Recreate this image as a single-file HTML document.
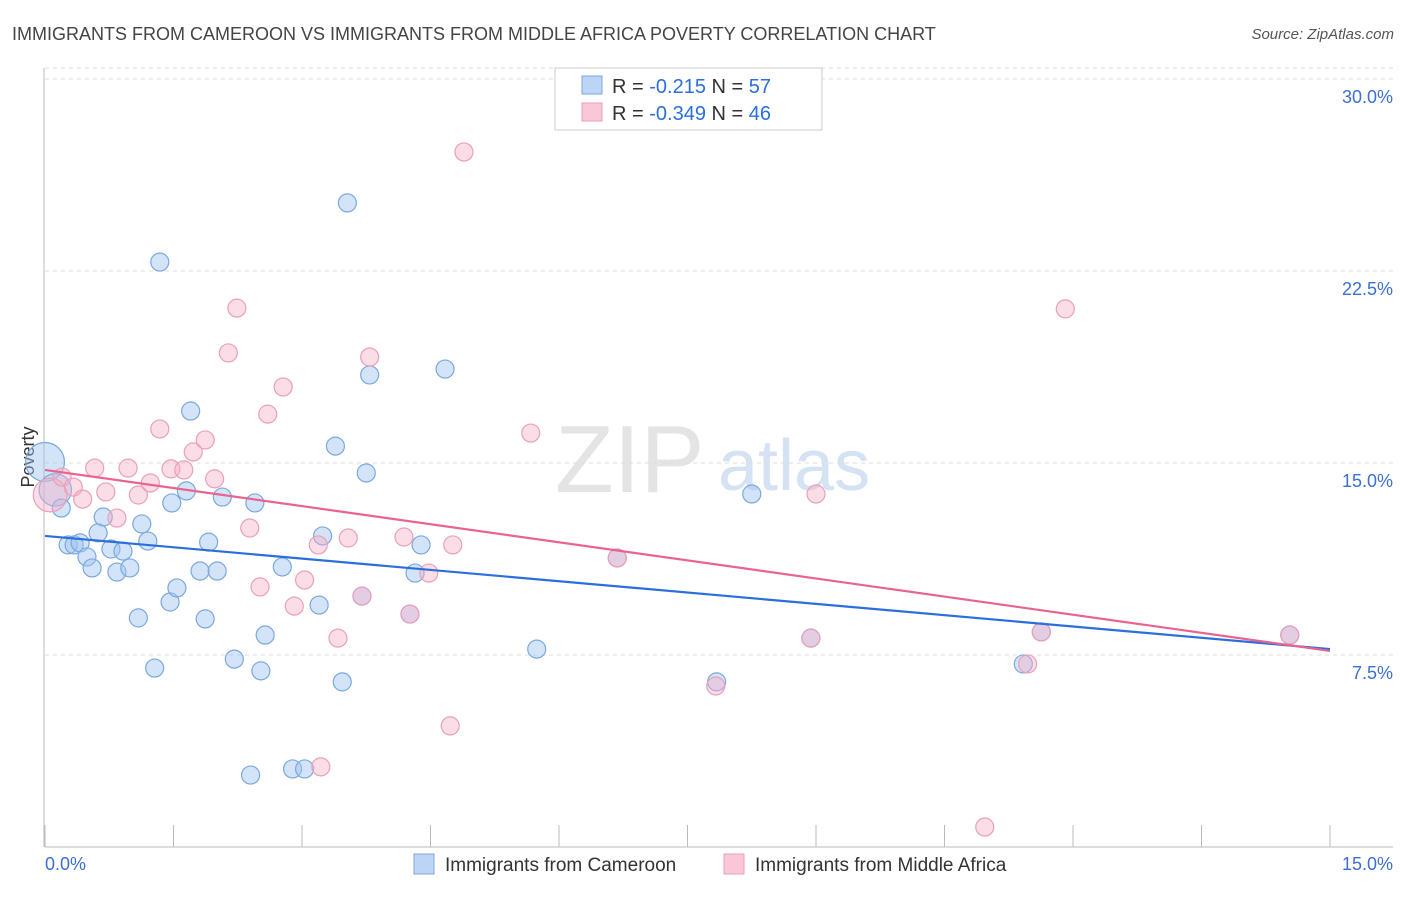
<!DOCTYPE html>
<html><head><meta charset="utf-8"><style>
body{margin:0;background:#fff;font-family:"Liberation Sans",sans-serif}
svg text{font-family:"Liberation Sans",sans-serif}
</style></head><body>
<svg id="c" width="1406" height="892">
<text x="12" y="40" font-size="18" fill="#444">IMMIGRANTS FROM CAMEROON VS IMMIGRANTS FROM MIDDLE AFRICA POVERTY CORRELATION CHART</text>
<text x="1394" y="39" font-size="15" fill="#555" font-style="italic" text-anchor="end">Source: ZipAtlas.com</text>
<text x="555" y="492" font-size="96" fill="#e4e4e4" font-family="Liberation Serif">ZIP</text>
<text x="718" y="490" font-size="72" fill="#d4e2f4">atlas</text>
<text transform="translate(34,457) rotate(-90)" font-size="18" fill="#333" text-anchor="middle">Poverty</text>
<g id="grid"></g><g id="ticks"></g><g id="pts"></g><g id="trend"></g>
<g>
<rect x="555" y="68" width="267" height="62" fill="#fff" stroke="#ccc"/>
<rect x="582" y="76" width="20" height="18" fill="#bcd4f5" stroke="#7aa8e0"/>
<rect x="582" y="103" width="20" height="18" fill="#f9c7d6" stroke="#eaa0b8"/>
<text x="612" y="93" font-size="20" fill="#333">R = <tspan fill="#2a6fdb">-0.215</tspan>   N = <tspan fill="#2a6fdb">57</tspan></text>
<text x="612" y="120" font-size="20" fill="#333">R = <tspan fill="#2a6fdb">-0.349</tspan>   N = <tspan fill="#2a6fdb">46</tspan></text>
</g>
<g>
<rect x="414" y="854" width="20" height="20" fill="#bcd4f5" stroke="#7aa8e0"/>
<text x="445" y="871" font-size="19" fill="#333">Immigrants from Cameroon</text>
<rect x="724" y="854" width="20" height="20" fill="#f9c7d6" stroke="#eaa0b8"/>
<text x="755" y="871" font-size="19" fill="#333">Immigrants from Middle Africa</text>
</g>
</svg>
<script>
const yTicks=[7.5,15,22.5,30];
const yTickLabels=["7.5%","15.0%","22.5%","30.0%"];
const xTicks=[0,1.5,3,4.5,6,7.5,9,10.5,12,13.5,15];
const xLabels=["0.0%","15.0%"];
const blueX=[0.00,0.12,0.19,0.27,0.34,0.41,0.49,0.55,0.62,0.68,0.77,0.84,0.91,0.99,1.09,1.13,1.20,1.28,1.34,1.46,1.48,1.54,1.65,1.70,1.81,1.87,1.91,2.01,2.07,2.21,2.40,2.45,2.52,2.57,2.77,2.89,3.03,3.20,3.24,3.39,3.47,3.53,3.70,3.75,3.79,4.26,4.32,4.39,4.67,5.74,6.68,7.84,8.25,8.94,11.42,11.63,14.53];
const blueY=[15.04,13.95,13.24,11.80,11.80,11.88,11.33,10.90,12.27,12.89,11.64,10.74,11.56,10.90,8.95,12.62,11.95,6.99,22.85,9.57,13.44,10.12,13.91,17.03,10.78,8.91,11.91,10.78,13.67,7.34,2.81,13.44,6.88,8.28,10.94,3.05,3.05,9.45,12.15,15.66,6.45,25.16,9.80,14.61,18.44,9.10,10.70,11.80,18.67,7.73,11.29,6.45,13.79,8.16,7.15,8.40,8.28];
const blueW=[3,2.5];
const pinkX=[0.06,0.20,0.33,0.44,0.58,0.71,0.84,0.97,1.09,1.23,1.34,1.47,1.62,1.73,1.87,1.98,2.14,2.24,2.39,2.51,2.60,2.78,2.91,3.03,3.19,3.42,3.54,3.70,3.79,4.19,4.26,4.48,4.73,4.76,4.89,5.67,6.68,7.83,8.94,9.00,10.97,11.47,11.63,11.91,14.53,3.22];
const pinkY=[13.75,14.45,14.06,13.59,14.80,13.87,12.85,14.80,13.75,14.22,16.33,14.77,14.73,15.43,15.90,14.38,19.30,21.05,12.46,10.16,16.91,17.97,9.41,10.43,11.80,8.16,12.07,9.80,19.14,12.11,9.10,10.70,4.73,11.80,27.15,16.17,11.29,6.29,8.16,13.79,0.78,7.15,8.40,21.02,8.28,3.13];
const pinkW=[2.6];
const blueTrend=[12.15,7.73];
const pinkTrend=[14.73,7.66];
const X=v=>45+v*(1330-45)/15;
const Y=v=>847-v*25.6;
const NS="http://www.w3.org/2000/svg";
function mk(t,a,p){const e=document.createElementNS(NS,t);for(const k in a)e.setAttribute(k,a[k]);p.appendChild(e);return e;}
const grid=document.getElementById('grid'),ticks=document.getElementById('ticks'),pts=document.getElementById('pts'),tr=document.getElementById('trend');
yTicks.forEach((t,i)=>{
 const l=mk('line',{x1:45,x2:1393,y1:Y(t),y2:Y(t),stroke:'#ddd','stroke-dasharray':'4,4'},grid);
 
 
 const tx=mk('text',{x:1393,y:Y(t)+24,'font-size':18,fill:'#3b6fd4','text-anchor':'end'},grid);
 tx.textContent=yTickLabels[i];
 
 
});
mk('line',{x1:45,x2:1393,y1:Y(30)-11,y2:Y(30)-11,stroke:'#ddd','stroke-dasharray':'4,4'},grid);
const ax=mk('line',{x1:44,x2:44,y1:68,y2:847,stroke:'#bbb'},ticks);


const bx=mk('line',{x1:45,x2:1393,y1:847,y2:847,stroke:'#bbb'},ticks);


xTicks.forEach(t=>{
 const l=mk('line',{x1:X(t),x2:X(t),y1:825,y2:847,stroke:'#bbb'},ticks);
 
 
});
const xl0=mk('text',{x:45,y:870,'font-size':18,fill:'#3b6fd4'},ticks);xl0.textContent=xLabels[0];


const xl1=mk('text',{x:1393,y:870,'font-size':18,fill:'#3b6fd4','text-anchor':'end'},ticks);xl1.textContent=xLabels[1];


function series(xs,ys,ws,fill,stroke,name){
 xs.forEach((x,i)=>{
  const c=mk('circle',{cx:X(x),cy:Y(ys[i]),r:9*(ws[i]?ws[i]*0.72:1),fill:fill,stroke:stroke,'stroke-width':1.2},pts);
  
  
 });
}
series(blueX,blueY,blueW,'rgba(160,196,240,0.45)','#7aa8e0','point-cameroon');
series(pinkX,pinkY,pinkW,'rgba(245,175,198,0.42)','#eaa0b8','point-middle-africa');
const t1=mk('line',{x1:X(0),x2:X(15),y1:Y(blueTrend[0]),y2:Y(blueTrend[1]),stroke:'#2a6fdb','stroke-width':2.2},tr);


const t2=mk('line',{x1:X(0),x2:X(15),y1:Y(pinkTrend[0]),y2:Y(pinkTrend[1]),stroke:'#e8648f','stroke-width':2.2},tr);


</script>
</body></html>
